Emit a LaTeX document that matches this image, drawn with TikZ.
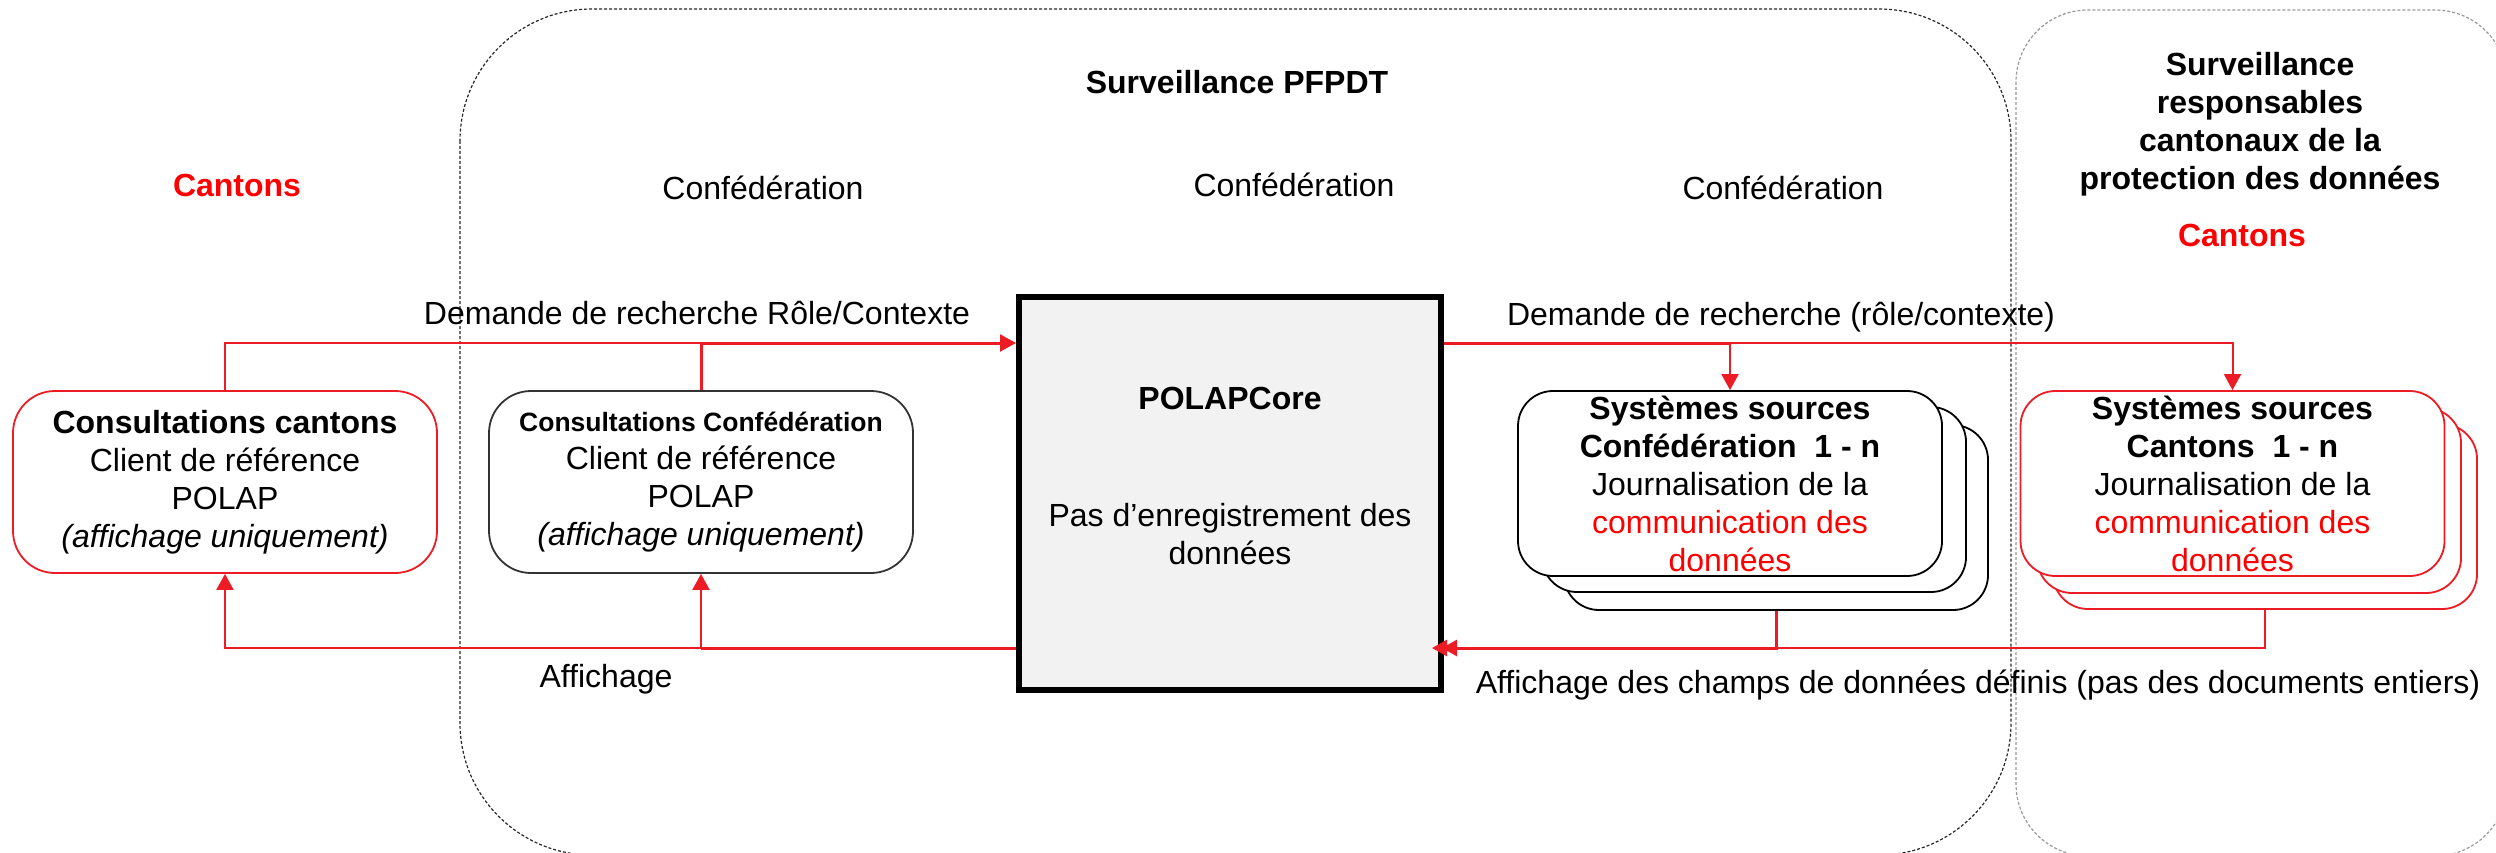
\documentclass[tikz,border=0pt]{standalone}
\usepackage{fontspec}
\setmainfont{Liberation Sans}
\usetikzlibrary{arrows.meta}
\definecolor{lred}{RGB}{237,28,36}
\definecolor{tred}{RGB}{255,0,0}
\definecolor{coregray}{RGB}{242,242,242}
\begin{document}
\begin{tikzpicture}[x=1pt,y=-1pt,
  txt/.style={font=\fontsize{32}{38}\selectfont, inner sep=0pt, align=center},
  redline/.style={draw=lred, line width=2pt},
  redthick/.style={draw=lred, line width=3pt},
  tip/.style={-{Triangle[length=16pt,width=17pt]}},
  dtip/.style={-{Triangle[length=15pt,width=16pt,sep=-5pt]Triangle[length=15pt,width=16pt]}},
  client/.style={draw, rounded corners=42pt, line width=1.8pt, minimum width=424pt, minimum height=182pt, inner sep=0pt, align=center, font=\fontsize{32}{38}\selectfont},
  srcbox/.style={draw, fill=white, rounded corners=35pt, line width=1.8pt, minimum width=424pt, minimum height=185pt, inner sep=0pt, align=center, font=\fontsize{32}{38}\selectfont},
  pfcont/.style={draw=black!85, line width=1.2pt, dash pattern=on 3pt off 2pt, rounded corners=132pt},
  kcont/.style={draw=black!40, line width=1.2pt, dash pattern=on 3pt off 2pt, rounded corners=72pt}
]
\useasboundingbox (0,0) rectangle (2496,853);
\clip (0,0) rectangle (2496,853);

% containers
\draw[pfcont] (460,9) rectangle (2011,855);
\draw[kcont] (2016,10) rectangle (2507,856);

% titles
\node[txt, text=tred, font=\fontsize{32}{38}\selectfont\bfseries] (ltitle) at (237,185) {Cantons};
\node[txt, font=\fontsize{32}{38}\selectfont\bfseries] (pftitle) at (1237,82) {Surveillance PFPDT};
\node[txt] (conf1) at (763,188) {Confédération};
\node[txt] (conf2) at (1294,185) {Confédération};
\node[txt] (conf3) at (1783,188) {Confédération};
\node[txt, font=\fontsize{32}{38}\selectfont\bfseries] (ktitle) at (2260,124) {Surveillance\\responsables\\cantonaux de la\\protection des données};
\node[txt, text=tred, font=\fontsize{32}{38}\selectfont\bfseries] (kcant) at (2242,235) {Cantons};

% client boxes
\node[client, draw=lred] (cc) at (225,482) {\textbf{Consultations cantons}\\Client de référence\\POLAP\\\textit{(affichage uniquement)}};
\node[client, draw=black!80] (cf) at (701,482) {{\fontsize{26.5}{38}\selectfont\textbf{Consultations Confédération}}\\Client de référence\\POLAP\\\textit{(affichage uniquement)}};

% core
\node[draw=black, fill=coregray, line width=6pt, minimum width=422pt, minimum height=393pt, inner sep=0pt] (core) at (1230,493.5) {};
\node[txt, font=\fontsize{32}{38}\selectfont\bfseries] (coretitle) at (1230,398) {POLAPCore};
\node[txt] (coredesc) at (1230,534) {Pas d’enregistrement des\\données};

% source systems Confederation
\node[srcbox, draw=black] (ssc3) at (1776,517.5) {};
\node[srcbox, draw=black] (ssc2) at (1754,499.5) {};
\node[srcbox, draw=black] (ssc) at (1730,483.5) {\textbf{Systèmes sources}\\\textbf{Confédération\ \ 1 - n}\\Journalisation de la\\\textcolor{tred}{communication des}\\\textcolor{tred}{données}};

% source systems Cantons
\node[srcbox, draw=lred] (skk3) at (2265,516.5) {};
\node[srcbox, draw=lred] (skk2) at (2249,500.5) {};
\node[srcbox, draw=lred] (skk) at (2232.5,483.5) {\textbf{Systèmes sources}\\\textbf{Cantons\ \ 1 - n}\\Journalisation de la\\\textcolor{tred}{communication des}\\\textcolor{tred}{données}};

% labels
\node[txt] (reqLlab) at (697,313) {Demande de recherche Rôle/Contexte};
\node[txt] (reqRlab) at (1781,317) {Demande de recherche (rôle/contexte)};
\node[txt] (dispLlab) at (606,679) {Affichage};
\node[txt] (dispRlab) at (1978,685) {Affichage des champs de données définis (pas des documents entiers)};

% connectors
\coordinate (inL) at (core.west |- 0,343);
\coordinate (outL) at (core.west |- 0,648);
\coordinate (inR) at (core.east |- 0,343);
\coordinate (outR) at ([xshift=-12pt]core.east |- 0,648);

\draw[redline, tip] (cc.north) |- (inL);
\draw[redthick] (cf.north) |- ([xshift=-14pt]inL);

\draw[redline, tip] (outL) -| (cc.south);
\draw[redthick] (outL) -- (cf.south |- outL);
\draw[redline, tip] (cf.south |- outL) -- (cf.south);

\draw[redline, tip] (inR) -| (skk.north);
\draw[redthick] (inR) -- (ssc.north |- inR);
\draw[redline, tip] (ssc.north |- inR) -- (ssc.north);

\draw[redline] (skk3.south) |- (ssc3.south |- outR);
\draw[redthick, dtip] (ssc3.south) |- (outR);
\end{tikzpicture}
\end{document}
